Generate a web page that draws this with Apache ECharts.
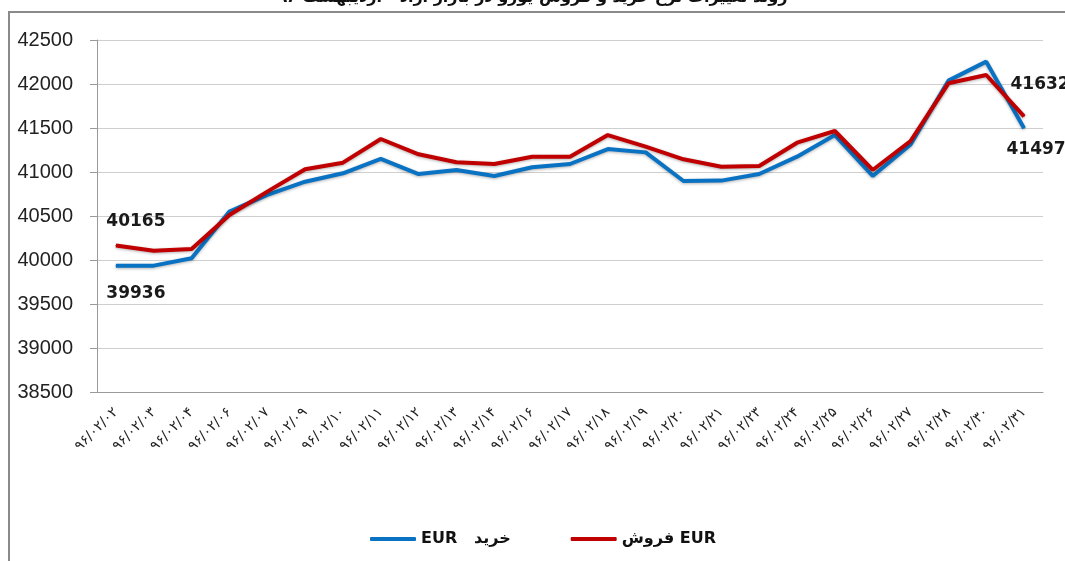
<!DOCTYPE html>
<html>
<head>
<meta charset="utf-8">
<script src="https://cdn.jsdelivr.net/npm/echarts@6/dist/echarts.min.js"></script>
<style>
  html, body { margin: 0; padding: 0; background: #fff; }
  #chart { width: 1065px; height: 561px; }
</style>
</head>
<body>
<div id="chart"></div>
<script>
// dates (Persian calendar) on the x axis
const dates = [
  '۹۶/۰۲/۰۲', '۹۶/۰۲/۰۳', '۹۶/۰۲/۰۴', '۹۶/۰۲/۰۶', '۹۶/۰۲/۰۷', '۹۶/۰۲/۰۹',
  '۹۶/۰۲/۱۰', '۹۶/۰۲/۱۱', '۹۶/۰۲/۱۲', '۹۶/۰۲/۱۳', '۹۶/۰۲/۱۴', '۹۶/۰۲/۱۶',
  '۹۶/۰۲/۱۷', '۹۶/۰۲/۱۸', '۹۶/۰۲/۱۹', '۹۶/۰۲/۲۰', '۹۶/۰۲/۲۱', '۹۶/۰۲/۲۳',
  '۹۶/۰۲/۲۴', '۹۶/۰۲/۲۵', '۹۶/۰۲/۲۶', '۹۶/۰۲/۲۷', '۹۶/۰۲/۲۸', '۹۶/۰۲/۳۰',
  '۹۶/۰۲/۳۱'
];
const buyName = 'EUR   خرید';
const sellName = 'فروش EUR';
const buyValues = [
  39936, 39936, 40020, 40550, 40740, 40890, 40985, 41150, 40977, 41023,
  40955, 41054, 41091, 41261, 41223, 40898, 40902, 40977, 41174, 41420,
  40955, 41313, 42038, 42254, 41497
];
const sellValues = [
  40165, 40106, 40125, 40511, 40777, 41031, 41106, 41375, 41201, 41110,
  41091, 41174, 41174, 41420, 41288, 41144, 41060, 41068, 41333, 41466,
  41023, 41352, 42008, 42102, 41632
];
const yTicks = [38500, 39000, 39500, 40000, 40500, 41000, 41500, 42000, 42500];

const labelFont = { fontFamily: 'DejaVu Sans', fontWeight: 'bold', fontSize: 17, color: '#1a1a1a' };

// only the first and last points carry a value label
function withEndLabels(values, firstLabel, lastLabel) {
  return values.map((v, i) => {
    if (i === 0) return { value: v, label: Object.assign({ show: true }, labelFont, firstLabel) };
    if (i === values.length - 1) return { value: v, label: Object.assign({ show: true }, labelFont, lastLabel) };
    return v;
  });
}

const chart = echarts.init(document.getElementById('chart'));
chart.setOption({
  animation: false,
  title: {
    text: 'روند تغییرات نرخ خرید و فروش یورو در بازار آزاد - اردیبهشت ۹۶',
    left: 'center',
    top: -15,
    textStyle: { fontFamily: 'DejaVu Sans', fontWeight: 'bold', fontSize: 16, color: '#111' }
  },
  graphic: [{
    type: 'rect',
    shape: { x: 9, y: 12, width: 1080, height: 570 },
    style: { fill: 'none', stroke: '#8a8a8a', lineWidth: 2 },
    z: -1
  }],
  grid: { left: 97, right: 22, top: 40, bottom: 169 },
  legend: {
    bottom: 9,
    left: 365,
    itemGap: 60,
    itemWidth: 46,
    itemHeight: 4,
    textStyle: { fontFamily: 'DejaVu Sans', fontWeight: 'bold', fontSize: 16, color: '#111' },
    data: [
      { name: buyName, icon: 'roundRect' },
      { name: sellName, icon: 'roundRect' }
    ]
  },
  xAxis: {
    type: 'category',
    data: dates,
    boundaryGap: true,
    axisLine: { lineStyle: { color: '#9a9a9a', width: 1 } },
    axisTick: { length: 5, lineStyle: { color: '#9a9a9a' } },
    axisLabel: {
      rotate: 45,
      interval: 0,
      margin: 18,
      fontFamily: 'DejaVu Sans',
      fontSize: 14,
      color: '#222'
    }
  },
  yAxis: {
    type: 'value',
    min: yTicks[0],
    max: yTicks[yTicks.length - 1],
    interval: 500,
    axisLine: { show: true, lineStyle: { color: '#9a9a9a', width: 1 } },
    axisTick: { show: true, length: 7, lineStyle: { color: '#9a9a9a' } },
    splitLine: { lineStyle: { color: '#cfcfcf', width: 1 } },
    axisLabel: {
      margin: 24,
      fontFamily: 'Liberation Sans',
      fontSize: 20,
      color: '#222',
      formatter: v => String(v)
    }
  },
  series: [
    {
      name: buyName,
      type: 'line',
      data: withEndLabels(buyValues,
        { position: 'bottom', offset: [20, 14] },
        { position: 'bottom', offset: [12, 7] }),
      symbol: 'circle',
      symbolSize: 1,
      lineStyle: { color: '#0a72c3', width: 4, shadowBlur: 3, shadowColor: 'rgba(0,0,0,0.3)', shadowOffsetY: 1 },
      itemStyle: { color: '#0a72c3' }
    },
    {
      name: sellName,
      type: 'line',
      data: withEndLabels(sellValues,
        { position: 'top', offset: [20, -10] },
        { position: 'top', offset: [16, -18], overflow: 'none' }),
      symbol: 'circle',
      symbolSize: 1,
      lineStyle: { color: '#c00000', width: 4, shadowBlur: 3, shadowColor: 'rgba(0,0,0,0.3)', shadowOffsetY: 1 },
      itemStyle: { color: '#c00000' }
    }
  ]
});
</script>
</body>
</html>
